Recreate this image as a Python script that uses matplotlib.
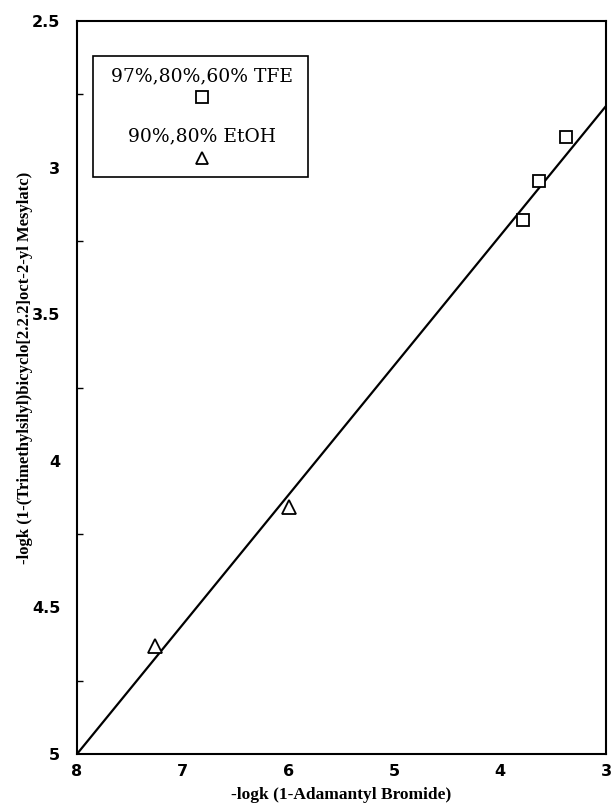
import matplotlib.pyplot as plt
from matplotlib.patches import Rectangle
from matplotlib.ticker import MultipleLocator

# data
tfe_x = [3.38, 3.63, 3.78]
tfe_y = [2.895, 3.046, 3.18]
etoh_x = [6.0, 7.26]
etoh_y = [4.157, 4.63]
fit_x = [8.0, 3.0]
fit_y = [5.0, 2.79]

x_ticks = [8, 7, 6, 5, 4, 3]
y_ticks = [2.5, 3, 3.5, 4, 4.5, 5]
y_tick_labels = ['2.5', '3', '3.5', '4', '4.5', '5']

fig = plt.figure(figsize=(6.13, 8.08), dpi=100)
ax = fig.add_axes([77 / 613, 1 - 754 / 808, 529 / 613, 733 / 808])

ax.plot(fit_x, fit_y, color='black', lw=1.6)
ax.plot(tfe_x, tfe_y, 's', ms=9, mfc='white', mec='black', mew=1.3, ls='none')
ax.plot(etoh_x, etoh_y, '^', ms=10, mfc='white', mec='black', mew=1.3, ls='none')

ax.set_xlim(8, 3)
ax.set_ylim(5, 2.5)
ax.set_xticks(x_ticks)
ax.set_xticklabels([str(v) for v in x_ticks])
ax.set_yticks(y_ticks)
ax.set_yticklabels(y_tick_labels)
ax.yaxis.set_minor_locator(MultipleLocator(0.25))
ax.tick_params(axis='both', which='major', length=0, labelsize=11.5)
ax.tick_params(axis='y', which='major', pad=12)
ax.tick_params(axis='x', which='major', pad=7)
ax.tick_params(axis='y', which='minor', direction='in', length=4, width=1)
for lab in ax.get_xticklabels() + ax.get_yticklabels():
    lab.set_fontweight('heavy')
    lab.set_family('DejaVu Sans')

for s in ax.spines.values():
    s.set_linewidth(1.5)

ax.set_xlabel('-logk (1-Adamantyl Bromide)', fontsize=12.5, fontweight='bold',
              family='Liberation Serif', labelpad=6)
ax.set_ylabel('-logk (1-(Trimethylsilyl)bicyclo[2.2.2]oct-2-yl Mesylatc)',
              fontsize=12, fontweight='bold', family='Liberation Serif', labelpad=6)
ax.yaxis.set_label_coords(-0.083, 0.527)

# legend box drawn by hand
ax.add_patch(Rectangle((0.030, 0.787), 0.407, 0.165, transform=ax.transAxes,
                       fill=False, ec='black', lw=1.2))
ax.text(0.236, 0.925, '97%,80%,60% TFE', transform=ax.transAxes, ha='center',
        va='center', fontsize=13.5, family='DejaVu Serif')
ax.plot([0.236], [0.896], 's', ms=8, mfc='white', mec='black', mew=1.3,
        transform=ax.transAxes)
ax.text(0.236, 0.842, '90%,80% EtOH', transform=ax.transAxes, ha='center',
        va='center', fontsize=13.5, family='DejaVu Serif')
ax.plot([0.236], [0.813], '^', ms=9, mfc='white', mec='black', mew=1.3,
        transform=ax.transAxes)

plt.savefig('out.png', dpi=100)
